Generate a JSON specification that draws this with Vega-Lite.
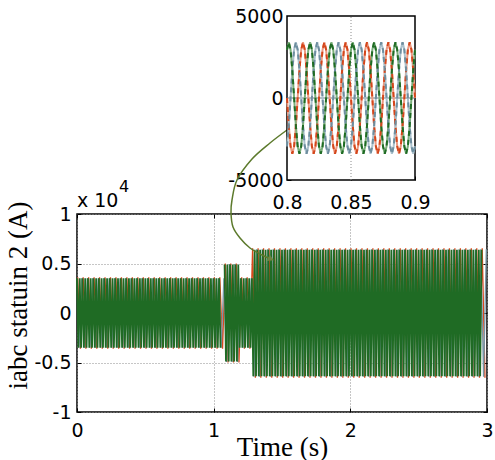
{
"$schema": "https://vega.github.io/schema/vega-lite/v6.json",
"width": 410,
"height": 198,
"autosize": {"type": "none"},
"padding": {"left": 77, "top": 214, "right": 8, "bottom": 48},
"background": "white",
"config": {
"view": {"stroke": "#000", "strokeWidth": 1.5},
"axis": {"labelFont": "DejaVu Sans", "labelFontSize": 19, "labelColor": "#000", "titleFont": "Liberation Serif", "titleFontSize": 27, "titleFontWeight": "normal", "titleColor": "#000", "tickColor": "#000", "labelFlush": false, "labelOverlap": false, "domain": false},
"text": {"font": "DejaVu Sans", "fontSize": 19, "color": "#000"}
},
"datasets": {
"mg": [
{"t": [0,0.01,0.02,0.03,0.04,0.05,0.06,0.07,0.08,0.09,0.1,0.11,0.12,0.13,0.14,0.15,0.16,0.17,0.18,0.19,0.2,0.21,0.22,0.23,0.24,0.25,0.26,0.27,0.28,0.29,0.3,0.31,0.32,0.33,0.34,0.35,0.36,0.37,0.38,0.39,0.4,0.41,0.42,0.43,0.44,0.45,0.46,0.47,0.48,0.49,0.5,0.51,0.52,0.53,0.54,0.55,0.56,0.57,0.58,0.59,0.6,0.61,0.62,0.63,0.64,0.65,0.66,0.67,0.68,0.69,0.7,0.71,0.72,0.73,0.74,0.75,0.76,0.77,0.78,0.79,0.8,0.81,0.82,0.83,0.84,0.85,0.86,0.87,0.88,0.89,0.9,0.91,0.92,0.93,0.94,0.95,0.96,0.97,0.98,0.99,1,1.01,1.02,1.03,1.04,1.05,1.06,1.07],
 "v": [3500,-3500,3500,-3500,3500,-3500,3500,-3500,3500,-3500,3500,-3500,3500,-3500,3500,-3500,3500,-3500,3500,-3500,3500,-3500,3500,-3500,3500,-3500,3500,-3500,3500,-3500,3500,-3500,3500,-3500,3500,-3500,3500,-3500,3500,-3500,3500,-3500,3500,-3500,3500,-3500,3500,-3500,3500,-3500,3500,-3500,3500,-3500,3500,-3500,3500,-3500,3500,-3500,3500,-3500,3500,-3500,3500,-3500,3500,-3500,3500,-3500,3500,-3500,3500,-3500,3500,-3500,3500,-3500,3500,-3500,3500,-3500,3500,-3500,3500,-3500,3500,-3500,3500,-3500,3500,-3500,3500,-3500,3500,-3500,3500,-3500,3500,-3500,3500,-3500,3500,-3500,3500,-3500]},
{"t": [1.08,1.09,1.1,1.11,1.12,1.13,1.14,1.15,1.16,1.17,1.18],
 "v": [4900,-4900,4900,-4900,4900,-4900,4900,-4900,4900,-4900,4900]},
{"t": [1.19,1.2,1.21,1.22,1.23,1.24,1.25,1.26,1.27,1.28],
 "v": [-3500,3500,-3500,3500,-3500,3500,-3500,3500,-3500,3500]},
{"t": [1.29,1.3,1.31,1.32,1.33,1.34,1.35,1.36,1.37,1.38,1.39,1.4,1.41,1.42,1.43,1.44,1.45,1.46,1.47,1.48,1.49,1.5,1.51,1.52,1.53,1.54,1.55,1.56,1.57,1.58,1.59,1.6,1.61,1.62,1.63,1.64,1.65,1.66,1.67,1.68,1.69,1.7,1.71,1.72,1.73,1.74,1.75,1.76,1.77,1.78,1.79,1.8,1.81,1.82,1.83,1.84,1.85,1.86,1.87,1.88,1.89,1.9,1.91,1.92,1.93,1.94,1.95,1.96,1.97,1.98,1.99,2,2.01,2.02,2.03,2.04,2.05,2.06,2.07,2.08,2.09,2.1,2.11,2.12,2.13,2.14,2.15,2.16,2.17,2.18,2.19,2.2,2.21,2.22,2.23,2.24,2.25,2.26,2.27,2.28,2.29,2.3,2.31,2.32,2.33,2.34,2.35,2.36,2.37,2.38,2.39,2.4,2.41,2.42,2.43,2.44,2.45,2.46,2.47,2.48,2.49,2.5,2.51,2.52,2.53,2.54,2.55,2.56,2.57,2.58,2.59,2.6,2.61,2.62,2.63,2.64,2.65,2.66,2.67,2.68,2.69,2.7,2.71,2.72,2.73,2.74,2.75,2.76,2.77,2.78,2.79,2.8,2.81,2.82,2.83,2.84,2.85,2.86,2.87,2.88,2.89,2.9,2.91,2.92,2.93,2.94,2.95,2.96,2.97,2.98,2.99,3],
 "v": [-6400,6400,-6400,6400,-6400,6400,-6400,6400,-6400,6400,-6400,6400,-6400,6400,-6400,6400,-6400,6400,-6400,6400,-6400,6400,-6400,6400,-6400,6400,-6400,6400,-6400,6400,-6400,6400,-6400,6400,-6400,6400,-6400,6400,-6400,6400,-6400,6400,-6400,6400,-6400,6400,-6400,6400,-6400,6400,-6400,6400,-6400,6400,-6400,6400,-6400,6400,-6400,6400,-6400,6400,-6400,6400,-6400,6400,-6400,6400,-6400,6400,-6400,6400,-6400,6400,-6400,6400,-6400,6400,-6400,6400,-6400,6400,-6400,6400,-6400,6400,-6400,6400,-6400,6400,-6400,6400,-6400,6400,-6400,6400,-6400,6400,-6400,6400,-6400,6400,-6400,6400,-6400,6400,-6400,6400,-6400,6400,-6400,6400,-6400,6400,-6400,6400,-6400,6400,-6400,6400,-6400,6400,-6400,6400,-6400,6400,-6400,6400,-6400,6400,-6400,6400,-6400,6400,-6400,6400,-6400,6400,-6400,6400,-6400,6400,-6400,6400,-6400,6400,-6400,6400,-6400,6400,-6400,6400,-6400,6400,-6400,6400,-6400,6400,-6400,6400,-6400,6400,-6400,6400,-6400,6400,-6400,6400]}
],
"mr": [
{"t": [0.005,0.025,0.045,0.065,0.085,0.105,0.125,0.145,0.165,0.185,0.205,0.225,0.245,0.265,0.285,0.305,0.325,0.345,0.365,0.385,0.405,0.425,0.445,0.465,0.485,0.505,0.525,0.545,0.565,0.585,0.605,0.625,0.645,0.665,0.685,0.705,0.725,0.745,0.765,0.785,0.805,0.825,0.845,0.865,0.885,0.905,0.925,0.945,0.965,0.985,1.005,1.025,1.045,1.065],
 "v": [3600,-3600,3600,-3600,3600,-3600,3600,-3600,3600,-3600,3600,-3600,3600,-3600,3600,-3600,3600,-3600,3600,-3600,3600,-3600,3600,-3600,3600,-3600,3600,-3600,3600,-3600,3600,-3600,3600,-3600,3600,-3600,3600,-3600,3600,-3600,3600,-3600,3600,-3600,3600,-3600,3600,-3600,3600,-3600,3600,-3600,3600,-3600]},
{"t": [1.085,1.105,1.125,1.145,1.165,1.185],
 "v": [5000,-5000,5000,-5000,5000,-5000]},
{"t": [1.205,1.225,1.245,1.265],
 "v": [3600,-3600,3600,-3600]},
{"t": [1.285,1.305,1.325,1.345,1.365,1.385,1.405,1.425,1.445,1.465,1.485,1.505,1.525,1.545,1.565,1.585,1.605,1.625,1.645,1.665,1.685,1.705,1.725,1.745,1.765,1.785,1.805,1.825,1.845,1.865,1.885,1.905,1.925,1.945,1.965,1.985,2.005,2.025,2.045,2.065,2.085,2.105,2.125,2.145,2.165,2.185,2.205,2.225,2.245,2.265,2.285,2.305,2.325,2.345,2.365,2.385,2.405,2.425,2.445,2.465,2.485,2.505,2.525,2.545,2.565,2.585,2.605,2.625,2.645,2.665,2.685,2.705,2.725,2.745,2.765,2.785,2.805,2.825,2.845,2.865,2.885,2.905,2.925,2.945,2.965,2.985],
 "v": [6550,-6550,6550,-6550,6550,-6550,6550,-6550,6550,-6550,6550,-6550,6550,-6550,6550,-6550,6550,-6550,6550,-6550,6550,-6550,6550,-6550,6550,-6550,6550,-6550,6550,-6550,6550,-6550,6550,-6550,6550,-6550,6550,-6550,6550,-6550,6550,-6550,6550,-6550,6550,-6550,6550,-6550,6550,-6550,6550,-6550,6550,-6550,6550,-6550,6550,-6550,6550,-6550,6550,-6550,6550,-6550,6550,-6550,6550,-6550,6550,-6550,6550,-6550,6550,-6550,6550,-6550,6550,-6550,6550,-6550,6550,-6550,6550,-6550,6550,-6550]}
],
"mb": [
{"t": [0.015,0.035,0.055,0.075,0.095,0.115,0.135,0.155,0.175,0.195,0.215,0.235,0.255,0.275,0.295,0.315,0.335,0.355,0.375,0.395,0.415,0.435,0.455,0.475,0.495,0.515,0.535,0.555,0.575,0.595,0.615,0.635,0.655,0.675,0.695,0.715,0.735,0.755,0.775,0.795,0.815,0.835,0.855,0.875,0.895,0.915,0.935,0.955,0.975,0.995,1.015,1.035,1.055,1.075],
 "v": [-3500,3500,-3500,3500,-3500,3500,-3500,3500,-3500,3500,-3500,3500,-3500,3500,-3500,3500,-3500,3500,-3500,3500,-3500,3500,-3500,3500,-3500,3500,-3500,3500,-3500,3500,-3500,3500,-3500,3500,-3500,3500,-3500,3500,-3500,3500,-3500,3500,-3500,3500,-3500,3500,-3500,3500,-3500,3500,-3500,3500,-3500,3500]},
{"t": [1.095,1.115,1.135,1.155,1.175],
 "v": [-4950,4950,-4950,4950,-4950]},
{"t": [1.195,1.215,1.235,1.255,1.275],
 "v": [3500,-3500,3500,-3500,3500]},
{"t": [1.295,1.315,1.335,1.355,1.375,1.395,1.415,1.435,1.455,1.475,1.495,1.515,1.535,1.555,1.575,1.595,1.615,1.635,1.655,1.675,1.695,1.715,1.735,1.755,1.775,1.795,1.815,1.835,1.855,1.875,1.895,1.915,1.935,1.955,1.975,1.995,2.015,2.035,2.055,2.075,2.095,2.115,2.135,2.155,2.175,2.195,2.215,2.235,2.255,2.275,2.295,2.315,2.335,2.355,2.375,2.395,2.415,2.435,2.455,2.475,2.495,2.515,2.535,2.555,2.575,2.595,2.615,2.635,2.655,2.675,2.695,2.715,2.735,2.755,2.775,2.795,2.815,2.835,2.855,2.875,2.895,2.915,2.935,2.955,2.975,2.995],
 "v": [-6450,6450,-6450,6450,-6450,6450,-6450,6450,-6450,6450,-6450,6450,-6450,6450,-6450,6450,-6450,6450,-6450,6450,-6450,6450,-6450,6450,-6450,6450,-6450,6450,-6450,6450,-6450,6450,-6450,6450,-6450,6450,-6450,6450,-6450,6450,-6450,6450,-6450,6450,-6450,6450,-6450,6450,-6450,6450,-6450,6450,-6450,6450,-6450,6450,-6450,6450,-6450,6450,-6450,6450,-6450,6450,-6450,6450,-6450,6450,-6450,6450,-6450,6450,-6450,6450,-6450,6450,-6450,6450,-6450,6450,-6450,6450,-6450,6450,-6450,6450]}
],
"inset": [
{"t": [0.8,0.80139,0.80278,0.80417,0.80556,0.80694,0.80833,0.80972,0.81111,0.8125,0.81389,0.81528,0.81667,0.81806,0.81944,0.82083,0.82222,0.82361,0.825,0.82639,0.82778,0.82917,0.83056,0.83194,0.83333,0.83472,0.83611,0.8375,0.83889,0.84028,0.84167,0.84306,0.84444,0.84583,0.84722,0.84861,0.85,0.85139,0.85278,0.85417,0.85556,0.85694,0.85833,0.85972,0.86111,0.8625,0.86389,0.86528,0.86667,0.86806,0.86944,0.87083,0.87222,0.87361,0.875,0.87639,0.87778,0.87917,0.88056,0.88194,0.88333,0.88472,0.88611,0.8875,0.88889,0.89028,0.89167,0.89306,0.89444,0.89583,0.89722,0.89861,0.9],
 "g": [2944,3400,2944,1700,0,-1700,-2944,-3400,-2944,-1700,0,1700,2944,3400,2944,1700,0,-1700,-2944,-3400,-2944,-1700,0,1700,2944,3400,2944,1700,0,-1700,-2944,-3400,-2944,-1700,0,1700,2944,3400,2944,1700,0,-1700,-2944,-3400,-2944,-1700,0,1700,2944,3400,2944,1700,0,-1700,-2944,-3400,-2944,-1700,0,1700,2944,3400,2944,1700,0,-1700,-2944,-3400,-2944,-1700,0,1700,2944],
 "b": [-2944,-1700,0,1700,2944,3400,2944,1700,0,-1700,-2944,-3400,-2944,-1700,0,1700,2944,3400,2944,1700,0,-1700,-2944,-3400,-2944,-1700,0,1700,2944,3400,2944,1700,0,-1700,-2944,-3400,-2944,-1700,0,1700,2944,3400,2944,1700,0,-1700,-2944,-3400,-2944,-1700,0,1700,2944,3400,2944,1700,0,-1700,-2944,-3400,-2944,-1700,0,1700,2944,3400,2944,1700,0,-1700,-2944,-3400,-2944],
 "r": [0,-1700,-2944,-3400,-2944,-1700,0,1700,2944,3400,2944,1700,0,-1700,-2944,-3400,-2944,-1700,0,1700,2944,3400,2944,1700,0,-1700,-2944,-3400,-2944,-1700,0,1700,2944,3400,2944,1700,0,-1700,-2944,-3400,-2944,-1700,0,1700,2944,3400,2944,1700,0,-1700,-2944,-3400,-2944,-1700,0,1700,2944,3400,2944,1700,0,-1700,-2944,-3400,-2944,-1700,0,1700,2944,3400,2944,1700,0]}
],
"connector": [
{"o":1,"t":1.5366,"v":18485},{"o":2,"t":1.4122,"v":17172},{"o":3,"t":1.2805,"v":15556},{"o":4,"t":1.1707,"v":13434},{"o":5,"t":1.1341,"v":11414},{"o":6,"t":1.1268,"v":10101},{"o":7,"t":1.1415,"v":8687},{"o":8,"t":1.1927,"v":7576},{"o":9,"t":1.2658,"v":6566},{"o":10,"t":1.3537,"v":5859},{"o":11,"t":1.4195,"v":5455}
]
},
"layer": [
{
"layer": [
{
"data": {"name": "mr"},
"transform": [{"flatten": ["t", "v"]}],
"mark": {"type": "line", "color": "#d9481c", "strokeWidth": 1.3},
"encoding": {
"x": {"field": "t", "type": "quantitative", "scale": {"domain": [0, 3], "nice": false, "zero": false},
 "axis": {"orient": "bottom", "values": [0, 1, 2, 3], "labelExpr": "datum.value", "grid": true, "gridDash": [1, 2], "gridColor": "#8c8c8c", "tickSize": -4, "labelPadding": 13, "title": "Time (s)", "titleY": 43, "titleBaseline": "alphabetic"}},
"y": {"field": "v", "type": "quantitative", "scale": {"domain": [-10000, 10000], "nice": false, "zero": false},
 "axis": {"orient": "left", "values": [-10000, -5000, 0, 5000, 10000], "labelExpr": "datum.value/10000", "grid": true, "gridDash": [1, 2], "gridColor": "#8c8c8c", "tickSize": -4, "labelPadding": 10, "title": "iabc statuin 2 (A)", "titleX": -51, "titleY": 81, "titleBaseline": "alphabetic", "titleAlign": "center"}}
}
},
{
"data": {"name": "mb"},
"transform": [{"flatten": ["t", "v"]}],
"mark": {"type": "line", "color": "#7a98a8", "strokeWidth": 1.3},
"encoding": {
"x": {"field": "t", "type": "quantitative", "scale": {"domain": [0, 3], "nice": false, "zero": false},
 "axis": {"orient": "top", "values": [0, 1, 2, 3], "labels": false, "grid": false, "tickSize": -4, "title": null}},
"y": {"field": "v", "type": "quantitative", "scale": {"domain": [-10000, 10000], "nice": false, "zero": false},
 "axis": {"orient": "right", "values": [-10000, -5000, 0, 5000, 10000], "labels": false, "grid": false, "tickSize": -4, "title": null}}
}
},
{
"data": {"name": "mg"},
"transform": [{"flatten": ["t", "v"]}],
"mark": {"type": "line", "color": "#1f6b24", "strokeWidth": 1.8},
"encoding": {
"x": {"field": "t", "type": "quantitative", "scale": {"domain": [0, 3], "nice": false, "zero": false}, "axis": null},
"y": {"field": "v", "type": "quantitative", "scale": {"domain": [-10000, 10000], "nice": false, "zero": false}, "axis": null}
}
},
{
"data": {"name": "connector"},
"mark": {"type": "line", "color": "#5c7a2c", "strokeWidth": 1.5, "interpolate": "cardinal"},
"encoding": {
"x": {"field": "t", "type": "quantitative", "scale": {"domain": [0, 3], "nice": false, "zero": false}, "axis": null},
"y": {"field": "v", "type": "quantitative", "scale": {"domain": [-10000, 10000], "nice": false, "zero": false}, "axis": null},
"order": {"field": "o", "type": "quantitative"}
}
},
{
"data": {"values": [{"t": 1.4195, "v": 5455}]},
"mark": {"type": "point", "shape": "triangle-right", "angle": 24, "size": 50, "filled": true, "color": "#6f8440", "opacity": 1},
"encoding": {
"x": {"field": "t", "type": "quantitative", "scale": {"domain": [0, 3], "nice": false, "zero": false}, "axis": null},
"y": {"field": "v", "type": "quantitative", "scale": {"domain": [-10000, 10000], "nice": false, "zero": false}, "axis": null}
}
},
{
"data": {"values": [{"t": 0, "v": 10000, "s": "x 10"}]},
"mark": {"type": "text", "align": "left", "baseline": "alphabetic", "dy": -7, "font": "DejaVu Sans", "fontSize": 19},
"encoding": {
"x": {"field": "t", "type": "quantitative", "scale": {"domain": [0, 3], "nice": false, "zero": false}, "axis": null},
"y": {"field": "v", "type": "quantitative", "scale": {"domain": [-10000, 10000], "nice": false, "zero": false}, "axis": null},
"text": {"field": "s"}
}
},
{
"data": {"values": [{"t": 0, "v": 10000, "s": "4"}]},
"mark": {"type": "text", "align": "left", "baseline": "alphabetic", "dx": 42, "dy": -22, "font": "DejaVu Sans", "fontSize": 16},
"encoding": {
"x": {"field": "t", "type": "quantitative", "scale": {"domain": [0, 3], "nice": false, "zero": false}, "axis": null},
"y": {"field": "v", "type": "quantitative", "scale": {"domain": [-10000, 10000], "nice": false, "zero": false}, "axis": null},
"text": {"field": "s"}
}
}
],
"resolve": {"axis": {"x": "independent", "y": "independent"}}
},
{
"layer": [
{
"data": {"values": [{"t": 0.8, "t2": 0.9, "v": -5000, "v2": 5000}]},
"mark": {"type": "rect", "fill": "white", "stroke": "#000", "strokeWidth": 1.5},
"encoding": {
"x": {"field": "t", "type": "quantitative", "scale": {"domain": [0.8, 0.9], "range": [210, 338], "nice": false, "zero": false},
 "axis": {"orient": "bottom", "offset": -232, "values": [0.8, 0.85, 0.9], "labelExpr": "''+datum.value", "grid": false, "tickSize": -4, "labelPadding": 17, "title": null}},
"x2": {"field": "t2"},
"y": {"field": "v", "type": "quantitative", "scale": {"domain": [-5000, 5000], "range": [-34, -198], "nice": false, "zero": false},
 "axis": {"orient": "left", "offset": -210, "values": [-5000, 0, 5000], "labelExpr": "''+datum.value", "grid": false, "tickSize": -4, "labelPadding": 8, "title": null}},
"y2": {"field": "v2"}
}
},
{
"data": {"values": [{"t": 0.85, "v": -5000, "v2": 5000}]},
"mark": {"type": "rule", "color": "#8c8c8c", "strokeDash": [1, 2], "strokeWidth": 1},
"encoding": {
"x": {"field": "t", "type": "quantitative", "scale": {"domain": [0.8, 0.9], "range": [210, 338], "nice": false, "zero": false}, "axis": null},
"y": {"field": "v", "type": "quantitative", "scale": {"domain": [-5000, 5000], "range": [-34, -198], "nice": false, "zero": false}, "axis": null},
"y2": {"field": "v2"}
}
},
{
"data": {"values": [{"t": 0.8, "t2": 0.9, "v": 0}]},
"mark": {"type": "rule", "color": "#6d7b82", "strokeWidth": 1},
"encoding": {
"x": {"field": "t", "type": "quantitative", "scale": {"domain": [0.8, 0.9], "range": [210, 338], "nice": false, "zero": false}, "axis": null},
"x2": {"field": "t2"},
"y": {"field": "v", "type": "quantitative", "scale": {"domain": [-5000, 5000], "range": [-34, -198], "nice": false, "zero": false}, "axis": null}
}
},
{
"data": {"name": "inset"},
"transform": [{"flatten": ["t", "g", "b", "r"]}, {"fold": ["r", "b", "g"], "as": ["p", "v"]}],
"mark": {"type": "line", "strokeWidth": 2},
"encoding": {
"x": {"field": "t", "type": "quantitative", "scale": {"domain": [0.8, 0.9], "range": [210, 338], "nice": false, "zero": false}, "axis": null},
"y": {"field": "v", "type": "quantitative", "scale": {"domain": [-5000, 5000], "range": [-34, -198], "nice": false, "zero": false}, "axis": null},
"stroke": {"field": "p", "type": "nominal", "scale": {"domain": ["r", "b", "g"], "range": ["#eb9a82", "#abc1cc", "#7aae7a"]}, "legend": null}
}
},
{
"data": {"name": "inset"},
"transform": [{"flatten": ["t", "g", "b", "r"]}, {"fold": ["r", "b", "g"], "as": ["p", "v"]}],
"mark": {"type": "line", "strokeWidth": 2, "strokeDash": [5, 4]},
"encoding": {
"x": {"field": "t", "type": "quantitative", "scale": {"domain": [0.8, 0.9], "range": [210, 338], "nice": false, "zero": false}, "axis": null},
"y": {"field": "v", "type": "quantitative", "scale": {"domain": [-5000, 5000], "range": [-34, -198], "nice": false, "zero": false}, "axis": null},
"color": {"field": "p", "type": "nominal", "scale": {"domain": ["r", "b", "g"], "range": ["#d4461b", "#6e8e9f", "#1f6b24"]}, "legend": null}
}
}
],
"resolve": {"axis": {"x": "independent", "y": "independent"}}
}
],
"resolve": {"scale": {"x": "independent", "y": "independent"}}
}
